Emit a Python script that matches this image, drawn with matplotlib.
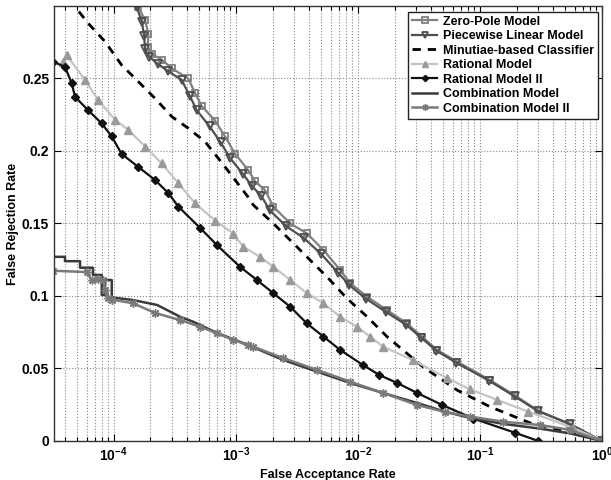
import matplotlib
matplotlib.use("Agg")
import matplotlib.pyplot as plt
from matplotlib.ticker import LogLocator, FuncFormatter, NullFormatter
import numpy as np

plt.rcParams['font.family'] = ['Liberation Sans', 'DejaVu Sans']
plt.rcParams['font.weight'] = 'bold'
plt.rcParams['mathtext.fontset'] = 'custom'
plt.rcParams['mathtext.rm'] = 'Liberation Sans:bold'
plt.rcParams['mathtext.bf'] = 'Liberation Sans:bold'

# ---- data (FAR, FRR) ----
zp_far = [1.55e-4, 1.59e-4, 1.81e-4, 1.92e-4, 1.90e-4, 2.05e-4, 2.47e-4, 2.99e-4, 4.08e-4,
          4.64e-4, 5.26e-4, 6.76e-4, 8.17e-4, 9.87e-4, 1.26e-3, 1.44e-3, 1.74e-3, 2.03e-3,
          2.79e-3, 3.82e-3, 5.22e-3, 7.16e-3, 8.65e-3, 1.19e-2, 1.73e-2, 2.52e-2, 3.35e-2,
          4.45e-2, 6.52e-2, 0.121, 0.195, 0.301, 0.55, 1.0]
zp_frr = [0.31, 0.2995, 0.290, 0.281, 0.272, 0.267, 0.263, 0.257, 0.250,
          0.240, 0.231, 0.221, 0.210, 0.198, 0.187, 0.179, 0.173, 0.1616,
          0.150, 0.1432, 0.1317, 0.118, 0.1088, 0.0995, 0.0903, 0.0811, 0.072,
          0.0628, 0.0547, 0.042, 0.0312, 0.0209, 0.0117, 0.0]

pw_far = [1.50e-4, 1.55e-4, 1.70e-4, 1.78e-4, 1.80e-4, 1.95e-4, 2.30e-4, 2.80e-4, 3.60e-4,
          4.20e-4, 4.80e-4, 6.10e-4, 7.50e-4, 9.00e-4, 1.15e-3, 1.35e-3, 1.62e-3, 1.90e-3,
          2.60e-3, 3.60e-3, 5.00e-3, 6.90e-3, 8.50e-3, 1.17e-2, 1.70e-2, 2.50e-2, 3.30e-2,
          4.40e-2, 6.40e-2, 0.119, 0.192, 0.298, 0.55, 1.0]
pw_frr = [0.31, 0.299, 0.289, 0.279, 0.270, 0.265, 0.260, 0.255, 0.249,
          0.238, 0.228, 0.217, 0.206, 0.195, 0.184, 0.176, 0.169, 0.159,
          0.148, 0.140, 0.129, 0.116, 0.1075, 0.098, 0.089, 0.080, 0.0712,
          0.0622, 0.0540, 0.0415, 0.0308, 0.0206, 0.0115, 0.0]

mc_far = [4.39e-5, 4.82e-5, 6.19e-5, 8.50e-5, 1.16e-4, 1.50e-4, 2.18e-4, 2.99e-4, 4.08e-4,
          5.60e-4, 7.67e-4, 9.87e-4, 1.26e-3, 1.39e-3, 2.03e-3, 3.16e-3, 3.82e-3, 5.57e-3,
          8.13e-3, 1.19e-2, 1.73e-2, 3.43e-2, 6.52e-2, 0.121, 0.258, 0.55, 1.0]
mc_frr = [0.305, 0.2995, 0.288, 0.2754, 0.2593, 0.250, 0.2363, 0.2237, 0.2157,
          0.2064, 0.192, 0.180, 0.1683, 0.1628, 0.150, 0.134, 0.127, 0.1133,
          0.0984, 0.0857, 0.072, 0.051, 0.035, 0.0236, 0.0124, 0.0062, 0.0]

rm_far = [3.86e-5, 4.12e-5, 5.82e-5, 7.48e-5, 1.03e-4, 1.32e-4, 1.81e-4, 2.47e-4, 3.39e-4,
          4.64e-4, 6.80e-4, 9.51e-4, 1.15e-3, 1.58e-3, 2.03e-3, 2.79e-3, 3.82e-3, 5.22e-3,
          7.16e-3, 9.82e-3, 1.26e-2, 1.61e-2, 2.84e-2, 5.40e-2, 8.32e-2, 0.139, 0.249,
          0.582, 1.0]
rm_frr = [0.2616, 0.266, 0.249, 0.235, 0.2214, 0.2145, 0.203, 0.1915, 0.1777,
          0.1639, 0.152, 0.143, 0.134, 0.127, 0.1202, 0.111, 0.1019, 0.095,
          0.0857, 0.0788, 0.072, 0.065, 0.0557, 0.0433, 0.0356, 0.0283, 0.0202,
          0.009, 0.0]

rm2_far = [3.20e-5, 3.99e-5, 4.53e-5, 4.82e-5, 6.19e-5, 7.98e-5, 9.64e-5, 1.16e-4, 1.59e-4,
           2.18e-4, 2.80e-4, 3.39e-4, 5.09e-4, 7.03e-4, 1.08e-3, 1.49e-3, 2.03e-3, 2.79e-3,
           3.82e-3, 5.22e-3, 7.16e-3, 1.10e-2, 1.50e-2, 2.10e-2, 3.06e-2, 4.91e-2, 8.81e-2,
           0.195, 0.301]
rm2_frr = [0.2616, 0.258, 0.2467, 0.2374, 0.228, 0.219, 0.210, 0.198, 0.189,
           0.180, 0.171, 0.1616, 0.147, 0.135, 0.1202, 0.111, 0.1019, 0.0926,
           0.0811, 0.072, 0.0628, 0.0524, 0.0455, 0.040, 0.0331, 0.0248, 0.0155,
           0.0056, 0.0]

cm_far = [3.20e-5, 3.99e-5, 3.99e-5, 5.30e-5, 5.30e-5, 6.77e-5, 6.77e-5, 7.98e-5, 7.98e-5,
          8.50e-5, 8.50e-5, 9.64e-5, 9.64e-5, 1.44e-4, 2.27e-4, 3.49e-4, 4.46e-4, 7.03e-4,
          1.26e-3, 2.44e-3, 4.64e-3, 8.65e-3, 1.61e-2, 3.06e-2, 5.17e-2, 8.32e-2, 0.155,
          0.312, 0.55, 1.0]
cm_frr = [0.127, 0.127, 0.124, 0.124, 0.1195, 0.1195, 0.1145, 0.1145, 0.1007,
          0.1007, 0.111, 0.111, 0.099, 0.0972, 0.0938, 0.0857, 0.0823, 0.0745,
          0.0662, 0.0559, 0.0478, 0.040, 0.0331, 0.0262, 0.0202, 0.0159, 0.0118,
          0.0085, 0.0052, 0.0]

cm2_far = [3.20e-5, 6.01e-5, 6.60e-5, 7.50e-5, 8.20e-5, 8.50e-5, 9.00e-5, 9.64e-5, 1.44e-4,
           2.18e-4, 3.49e-4, 5.09e-4, 7.03e-4, 9.51e-4, 1.26e-3, 1.39e-3, 2.44e-3, 4.64e-3,
           8.65e-3, 1.61e-2, 3.06e-2, 5.17e-2, 8.32e-2, 0.155, 0.312, 0.55, 1.0]
cm2_frr = [0.1174, 0.1165, 0.111, 0.112, 0.111, 0.104, 0.0985, 0.0975, 0.095,
           0.0883, 0.0834, 0.0788, 0.0743, 0.0697, 0.0662, 0.065, 0.0572, 0.049,
           0.0409, 0.0331, 0.0248, 0.020, 0.0168, 0.0133, 0.011, 0.0076, 0.0]

fig = plt.figure(figsize=(6.11, 4.8), dpi=100)
ax = fig.add_axes([0.0884, 0.0813, 0.8969, 0.9062])

ax.plot(zp_far, zp_frr, color='#808080', lw=1.6, marker='s', ms=5, mfc='none',
        mew=1.3, label='Zero-Pole Model')
ax.plot(pw_far, pw_frr, color='#4f4f4f', lw=1.6, marker='v', ms=6, mfc='none',
        mew=1.3, label='Piecewise Linear Model')
ax.plot(mc_far, mc_frr, color='black', lw=2, ls=(0, (3, 2.5)),
        label='Minutiae-based Classifier')
ax.plot(rm_far, rm_frr, color='#c4c4c4', lw=1.6, marker='^', ms=6, mfc='#9a9a9a',
        mec='#9a9a9a', label='Rational Model')
ax.plot(rm2_far, rm2_frr, color='#111111', lw=1.6, marker='D', ms=4, mfc='#111111',
        mec='#111111', label='Rational Model II')
ax.plot(cm_far, cm_frr, color='#3a3a3a', lw=1.8, label='Combination Model')
ax.plot(cm2_far, cm2_frr, color='#7a7a7a', lw=1.8, marker=(8, 2, 0), ms=6,
        mew=1.0, label='Combination Model II')

ax.set_xscale('log')
ax.set_xlim(10 ** -4.489, 1.0)
ax.set_ylim(0, 0.3)

ax.xaxis.set_major_locator(LogLocator(base=10, numticks=10))
ax.xaxis.set_minor_locator(LogLocator(base=10, subs=np.arange(2, 10), numticks=10))
ax.xaxis.set_minor_formatter(NullFormatter())
ax.xaxis.set_major_formatter(FuncFormatter(
    lambda v, p: r'$\mathbf{10^{%d}}$' % int(round(np.log10(v)))))
ax.set_yticks([0, 0.05, 0.1, 0.15, 0.2, 0.25])
ax.set_yticklabels(['0', '0.05', '0.1', '0.15', '0.2', '0.25'])

ax.grid(True, which='major', ls=':', color='#8a8a8a', lw=0.8)
ax.grid(True, which='minor', axis='x', ls=':', color='#8a8a8a', lw=0.8)
ax.tick_params(which='both', direction='in', top=True, right=True,
               labelsize=10, width=0.8)
ax.tick_params(which='major', length=5)
ax.tick_params(which='minor', length=3)
for s in ax.spines.values():
    s.set_color('#333333')
    s.set_linewidth(1.0)

ax.set_xlabel('False Acceptance Rate', fontsize=9, fontweight='bold', labelpad=3)
ax.set_ylabel('False Rejection Rate', fontsize=9, fontweight='bold', labelpad=2)

leg = ax.legend(loc='upper right', bbox_to_anchor=(0.993, 0.986), borderaxespad=0,
                fontsize=9, labelspacing=0.2, handlelength=2.0, handletextpad=0.5,
                borderpad=0.3, fancybox=False, framealpha=1, edgecolor='#222222',
                markerscale=0.8)
leg.get_frame().set_linewidth(1.0)
for t in leg.get_texts():
    t.set_fontweight('bold')

fig.savefig('out.png', dpi=100)
